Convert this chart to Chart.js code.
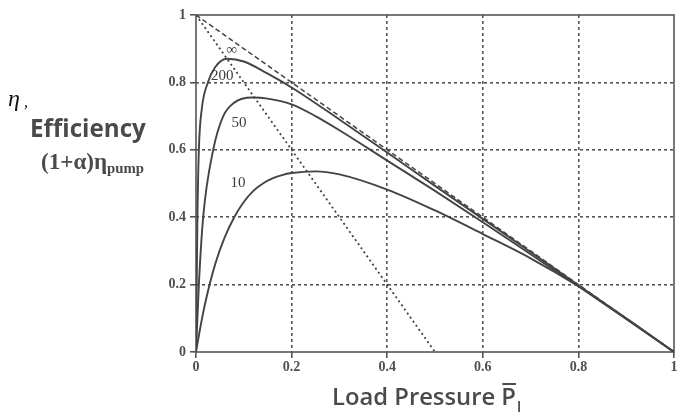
<!DOCTYPE html>
<html>
<head>
<meta charset="utf-8">
<script src="https://cdn.jsdelivr.net/npm/chart.js@4/dist/chart.umd.min.js"></script>
<style>
html, body { margin: 0; padding: 0; background: #ffffff; }
#wrap { width: 681px; height: 419px; }
</style>
</head>
<body>
<div id="wrap"><canvas id="effChart" width="681" height="419"></canvas></div>
<script>
// values
var p10 = [0, 0.01, 0.02, 0.04, 0.06, 0.08, 0.1, 0.12, 0.14, 0.16, 0.18, 0.2, 0.25, 0.3, 0.4, 0.5, 0.6, 0.7, 0.8, 0.9, 1];
var eff10 = [0, 0.08, 0.15, 0.26, 0.34, 0.4, 0.445, 0.478, 0.5, 0.515, 0.525, 0.531, 0.536, 0.527, 0.482, 0.42, 0.35, 0.278, 0.195, 0.1, 0];

var p50 = [0, 0.006, 0.015, 0.036, 0.057, 0.08, 0.117, 0.15, 0.2, 0.25, 0.3, 0.4, 0.5, 0.6, 0.7, 0.8, 0.9, 1];
var eff50 = [0, 0.2, 0.4, 0.6, 0.7, 0.74, 0.755, 0.752, 0.735, 0.7, 0.658, 0.568, 0.478, 0.385, 0.29, 0.195, 0.098, 0];

var p200 = [0, 0.003, 0.006, 0.012, 0.025, 0.04, 0.065, 0.1, 0.15, 0.2, 0.3, 0.4, 0.5, 0.6, 0.7, 0.8, 0.9, 1];
var eff200 = [0, 0.4, 0.6, 0.72, 0.8, 0.845, 0.87, 0.862, 0.826, 0.785, 0.69, 0.592, 0.493, 0.395, 0.297, 0.198, 0.099, 0];

var pLimit = [0, 1];
var effLimit = [1, 0];
var pHalf = [0, 0.5];
var effHalf = [1, 0];

var xTicks = [0, 0.2, 0.4, 0.6, 0.8, 1];
var yTicks = [0, 0.2, 0.4, 0.6, 0.8, 1];

var curveLabels = ["\u221E", "200", "50", "10"];
var labelX = [0.075, 0.055, 0.09, 0.088];
var labelY = [0.895, 0.82, 0.68, 0.5];

var ink = "#444";

function points(xs, ys)
{
    var out = [];
    for (var i = 0; i < xs.length; i++)
    {
        out.push({x: xs[i], y: ys[i]});
    }
    return out;
}

function tickText(v)
{
    return String(Math.round(v * 10) / 10);
}

// font size that makes text as wide as in the picture
function fitFont(ctx, text, style, family, width)
{
    ctx.font = style + " 20px " + family;
    var size = 20 * width / ctx.measureText(text).width;
    return style + " " + size.toFixed(1) + "px " + family;
}

var curveStyle = {
    fill: false,
    borderColor: ink,
    borderWidth: 1.9,
    pointRadius: 0,
    cubicInterpolationMode: 'monotone'
};

var textPlugin = {
    id: 'textPlugin',
    beforeDatasetsDraw: function(chart)
    {
        var ctx = chart.ctx;
        var a = chart.chartArea;
        ctx.save();
        ctx.strokeStyle = "#555";
        ctx.lineWidth = 1.6;
        ctx.strokeRect(a.left, a.top, a.right - a.left, a.bottom - a.top);
        ctx.restore();
    },
    afterDraw: function(chart)
    {
        var ctx = chart.ctx;
        var xs = chart.scales.x;
        var ys = chart.scales.y;
        var sans = "'Open Sans', 'Noto Sans', sans-serif";
        var serif = "'Liberation Serif', 'DejaVu Serif', serif";
        ctx.save();
        ctx.fillStyle = "#3c3c3c";

        // curve labels
        ctx.font = "15px " + serif;
        ctx.textAlign = "center";
        ctx.textBaseline = "middle";
        for (var i = 0; i < curveLabels.length; i++)
        {
            ctx.fillText(curveLabels[i], xs.getPixelForValue(labelX[i]), ys.getPixelForValue(labelY[i]));
        }

        // y axis title
        ctx.textAlign = "left";
        ctx.textBaseline = "alphabetic";
        ctx.fillStyle = "#111";
        ctx.font = "italic 24px 'Liberation Serif', serif";
        ctx.fillText("\u03B7", 8, 106);
        ctx.font = "italic 16px 'Liberation Serif', serif";
        ctx.fillText(",", 24, 107);

        ctx.fillStyle = "#4a4a4a";
        ctx.font = fitFont(ctx, "Efficiency", "bold", sans, 116);
        ctx.fillText("Efficiency", 30, 137);
        ctx.font = fitFont(ctx, "(1+\u03B1)\u03B7", "bold", serif, 66);
        ctx.fillText("(1+\u03B1)\u03B7", 41, 169);
        var sx = 41 + ctx.measureText("(1+\u03B1)\u03B7").width;
        ctx.font = fitFont(ctx, "pump", "bold", serif, 37);
        ctx.fillText("pump", sx, 173);

        // x axis title
        var t = "Load Pressure ";
        ctx.font = fitFont(ctx, "Load Pressure", "600", sans, 163);
        var tx = 332;
        var ty = 405;
        ctx.fillText(t, tx, ty);
        var px = tx + ctx.measureText(t).width;
        ctx.fillText("P", px, ty);
        var pw = ctx.measureText("P").width;
        ctx.fillRect(px + 1, ty - 22, pw - 1, 2);
        ctx.font = "600 15px " + sans;
        ctx.fillText("l", px + pw + 1, ty + 7);
        ctx.restore();
    }
};

var gridColor = function(c)
{
    var v = c.tick ? c.tick.value : 0;
    return (v <= 0 || v >= 1) ? 'rgba(0,0,0,0)' : '#555';
};

var tickFont = {family: "'Liberation Serif', 'DejaVu Serif', serif", size: 14, weight: 'bold'};

var ctx = document.getElementById("effChart").getContext('2d');
var effChart = new Chart(ctx, {
    type: 'line',
    data: {
        datasets: [
            Object.assign({label: '10', data: points(p10, eff10)}, curveStyle),
            Object.assign({label: '50', data: points(p50, eff50)}, curveStyle),
            Object.assign({label: '200', data: points(p200, eff200)}, curveStyle),
            {
                label: 'limit',
                data: points(pLimit, effLimit),
                fill: false,
                borderColor: ink,
                borderWidth: 1.5,
                borderDash: [5, 3],
                pointRadius: 0
            },
            {
                label: 'half',
                data: points(pHalf, effHalf),
                fill: false,
                borderColor: ink,
                borderWidth: 1.8,
                borderDash: [2, 3],
                pointRadius: 0
            }
        ]
    },
    options: {
        responsive: false,
        animation: false,
        layout: {
            padding: {top: 15, right: 7, left: 0, bottom: 0}
        },
        plugins: {
            legend: {display: false},
            tooltip: {enabled: false}
        },
        scales: {
            x: {
                type: 'linear',
                min: 0,
                max: 1,
                afterFit: function(scale) { scale.height = 67; },
                afterBuildTicks: function(scale) {
                    scale.ticks = xTicks.map(function(v) { return {value: v}; });
                },
                border: {display: false, dash: [3, 3]},
                grid: {
                    color: gridColor,
                    lineWidth: 1.6,
                    tickColor: '#555',
                    tickBorderDash: [],
                    tickLength: 6
                },
                ticks: {
                    padding: 1,
                    color: '#505050',
                    font: tickFont,
                    callback: function(v) { return tickText(v); }
                }
            },
            y: {
                type: 'linear',
                min: 0,
                max: 1,
                afterFit: function(scale) { scale.width = 196; },
                afterBuildTicks: function(scale) {
                    scale.ticks = yTicks.map(function(v) { return {value: v}; });
                },
                border: {display: false, dash: [3, 3]},
                grid: {
                    color: gridColor,
                    lineWidth: 1.6,
                    tickColor: '#555',
                    tickBorderDash: [],
                    tickLength: 6
                },
                ticks: {
                    padding: 4,
                    color: '#505050',
                    font: tickFont,
                    callback: function(v) { return tickText(v); }
                }
            }
        }
    },
    plugins: [textPlugin]
});
</script>
</body>
</html>
